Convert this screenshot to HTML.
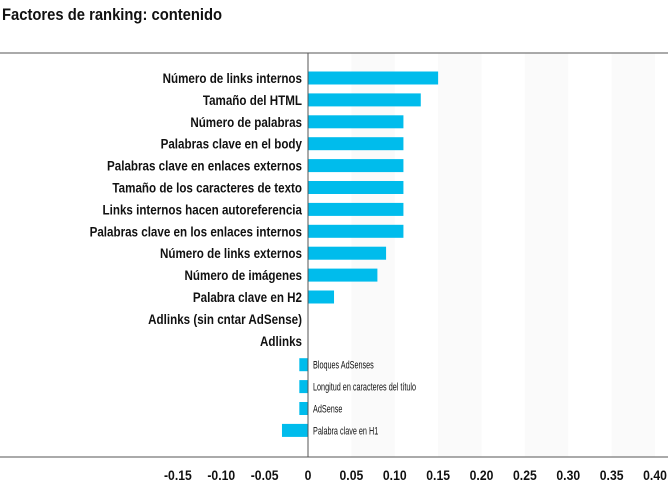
<!DOCTYPE html>
<html><head><meta charset="utf-8"><style>
body{margin:0;background:#fff;}
svg text{font-family:"Liberation Sans Narrow","Liberation Sans",sans-serif;}
</style></head><body>
<svg id="chart" width="668" height="480" xmlns="http://www.w3.org/2000/svg">
<g transform="translate(2,0) scale(0.87,1)"><text x="0" y="20" font-size="17" font-weight="bold" fill="#111">Factores de ranking: contenido</text></g>
<g id="bands"></g>
<line x1="0" y1="53" x2="668" y2="53" stroke="#555" stroke-width="1"/>
<line x1="0" y1="457" x2="668" y2="457" stroke="#555" stroke-width="1"/>
<g id="bars"></g>
<g id="labels"></g>
<g id="ticks"></g>
<line x1="308" y1="53" x2="308" y2="457" stroke="#555" stroke-width="1"/>
</svg>
<script>
const categories=["Número de links internos","Tamaño del HTML","Número de palabras","Palabras clave en el body","Palabras clave en enlaces externos","Tamaño de los caracteres de texto","Links internos hacen autoreferencia","Palabras clave en los enlaces internos","Número de links externos","Número de imágenes","Palabra clave en H2","Adlinks (sin cntar AdSense)","Adlinks","Bloques AdSenses","Longitud en caracteres del título","AdSense","Palabra clave en H1"];
const values=[0.15,0.13,0.11,0.11,0.11,0.11,0.11,0.11,0.09,0.08,0.03,0,0,-0.01,-0.01,-0.01,-0.03];
const tickValues=[-0.15,-0.10,-0.05,0,0.05,0.10,0.15,0.20,0.25,0.30,0.35,0.40];
const tickLabels=["-0.15","-0.10","-0.05","0","0.05","0.10","0.15","0.20","0.25","0.30","0.35","0.40"];
const NS="http://www.w3.org/2000/svg";
const x=v=>308+v*(655-308)/0.40;
const rowY=i=>78+i*21.9+(i>=13?2:0);
function mk(tag,attrs,parent){const e=document.createElementNS(NS,tag);for(const k in attrs)e.setAttribute(k,attrs[k]);(typeof parent==='string'?document.getElementById(parent):parent).appendChild(e);return e;}
for(let i=4;i<tickValues.length;i+=2){
 const b=mk('rect',{x:x(tickValues[i]),y:53,width:x(tickValues[i+1])-x(tickValues[i]),height:404,fill:'#fafafa'},'bands');
 
 
}
categories.forEach((c,i)=>{
 const v=values[i],y=rowY(i);
 if(v!==0){
  const r=mk('rect',{x:Math.min(x(0),x(v)),y:y-6.5,width:Math.abs(x(v)-x(0)),height:13,fill:'#00bcec'},'bars');
  
  
 }
 let g,t;
 if(v<0){
  g=mk('g',{transform:'translate(313,'+(y+4)+') scale(0.66,1)'},'labels');
  t=mk('text',{x:0,y:0,'font-size':11,fill:'#111'},g);
 } else {
  g=mk('g',{transform:'translate(302,'+(y+5)+') scale(0.83,1)'},'labels');
  t=mk('text',{x:0,y:0,'font-size':14,'font-weight':'bold','text-anchor':'end',fill:'#111'},g);
 }
 t.textContent=c;
 
 
});
tickValues.forEach((v,i)=>{
 const g=mk('g',{transform:'translate('+x(v)+',480) scale(0.87,1)'},'ticks');
 const t=mk('text',{x:0,y:0,'font-size':14,'font-weight':'bold','text-anchor':'middle',fill:'#111'},g);
 t.textContent=tickLabels[i];
 
 
});
</script>
</body></html>
